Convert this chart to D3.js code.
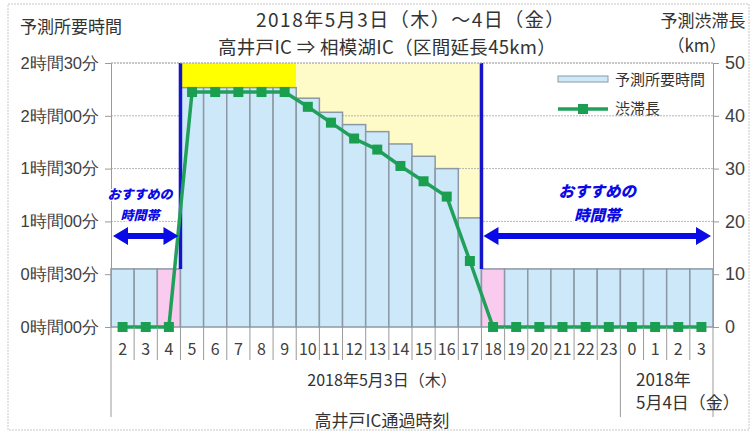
<!DOCTYPE html>
<html>
<head>
<meta charset="utf-8">
<script src="https://cdn.jsdelivr.net/npm/d3@7"></script>
<style>
  body { margin: 0; background: #fff; }
  svg { display: block; font-family: "Noto Sans CJK JP", "Noto Sans", sans-serif; }
  .axis text { fill: #404040; }
  .axis path, .axis line { stroke: #9a9a9a; }
</style>
</head>
<body>
<svg id="chart" width="755" height="432"></svg>
<script>
// ------------------------------------------------------------
// data: hourly forecast, 2018/5/3 02:00 -> 5/4 03:00
// ------------------------------------------------------------
const hours = ["2","3","4","5","6","7","8","9","10","11","12","13","14","15","16","17",
               "18","19","20","21","22","23","0","1","2","3"];
// travel time in minutes (bars, left axis)
const travelMin = [33,33,33,136,136,136,136,136,130,122,115,111,104,97,90,62,
                   33,33,33,33,33,33,33,33,33,33];
// congestion length in km (line, right axis)
const jamKm = [0,0,0,44.5,44.5,44.5,44.5,44.5,41.7,38.7,35.7,33.6,30.5,27.6,24.7,12.5,
               0,0,0,0,0,0,0,0,0,0];
const pinkIdx = [2, 16];          // boundary hours (4時, 18時)
const peakIdx = [3, 7];           // bright yellow band 5-9時
const busyIdx = [8, 15];          // pale yellow band 10-17時
const recommend = [[0, 2], [16, 25]];  // おすすめの時間帯
const leftTicks = [0, 30, 60, 90, 120, 150];
const rightTicks = [0, 10, 20, 30, 40, 50];

// ------------------------------------------------------------
// scales
// ------------------------------------------------------------
const svg = d3.select("#chart");
const L = 111, R = 713, T = 63, B = 327;

const x = d3.scaleBand().domain(d3.range(hours.length)).range([L, R]).padding(0);
const yL = d3.scaleLinear().domain([0, 150]).range([B, T]);
const yR = d3.scaleLinear().domain([0, 50]).range([B, T]);
const bw = x.bandwidth();

// outer frame
svg.append("rect")
  .attr("x", 8).attr("y", 4).attr("width", 741).attr("height", 426)
  .attr("fill", "none").attr("stroke", "#c8c8c8").attr("stroke-dasharray", "2,1");

// background bands
svg.append("rect")
  .attr("x", x(peakIdx[0])).attr("y", T)
  .attr("width", x(peakIdx[1]) + bw - x(peakIdx[0])).attr("height", B - T)
  .attr("fill", "#ffff00");
svg.append("rect")
  .attr("x", x(busyIdx[0])).attr("y", T)
  .attr("width", x(busyIdx[1]) + bw - x(busyIdx[0])).attr("height", B - T)
  .attr("fill", "#fffbc9");

// gridlines
svg.append("g").selectAll("line")
  .data(leftTicks.slice(1))
  .join("line")
    .attr("x1", L).attr("x2", R)
    .attr("y1", d => yL(d)).attr("y2", d => yL(d))
    .attr("stroke", "#b4b4b4").attr("stroke-dasharray", "2,1");

// bars
svg.append("g").selectAll("rect")
  .data(travelMin)
  .join("rect")
    .attr("x", (d, i) => x(i))
    .attr("y", d => yL(d))
    .attr("width", bw)
    .attr("height", d => B - yL(d))
    .attr("fill", (d, i) => pinkIdx.includes(i) ? "#f9cbef" : "#cde9f9")
    .attr("stroke", "#8c99a4")
    .attr("stroke-width", 1.5);

// blue boundary lines
svg.append("g").selectAll("line")
  .data(pinkIdx)
  .join("line")
    .attr("x1", (d, i) => i === 0 ? x(d) + bw : x(d))
    .attr("x2", (d, i) => i === 0 ? x(d) + bw : x(d))
    .attr("y1", T).attr("y2", d => yL(travelMin[d]))
    .attr("stroke", "#1414c8").attr("stroke-width", 3.5);

// axes
const fmt = m => `${Math.floor(m / 60)}時間${String(m % 60).padStart(2, "0")}分`;
const gL = svg.append("g").attr("class", "axis")
  .attr("transform", `translate(${L},0)`)
  .call(d3.axisLeft(yL).tickValues(leftTicks).tickFormat(fmt).tickSize(6).tickPadding(6));
gL.selectAll("text").attr("font-size", 16.5);
gL.select(".domain").attr("stroke", "#9a9a9a");

const gR = svg.append("g").attr("class", "axis")
  .attr("transform", `translate(${R},0)`)
  .call(d3.axisRight(yR).tickValues(rightTicks).tickSize(6).tickPadding(6));
gR.selectAll("text").attr("font-size", 18);

// top border of plot
svg.append("line")
  .attr("x1", L).attr("x2", R).attr("y1", T).attr("y2", T)
  .attr("stroke", "#b4b4b4").attr("stroke-dasharray", "2,1");

// congestion line
const line = d3.line().x((d, i) => x(i) + bw / 2).y(d => yR(d));
svg.append("path")
  .datum(jamKm)
  .attr("d", line)
  .attr("fill", "none").attr("stroke", "#21a05c").attr("stroke-width", 3.5);
svg.append("g").selectAll("rect")
  .data(jamKm)
  .join("rect")
    .attr("x", (d, i) => x(i) + bw / 2 - 5)
    .attr("y", d => yR(d) - 5)
    .attr("width", 10).attr("height", 10)
    .attr("fill", "#1a9f50");

// x labels + separators
const gx = svg.append("g").attr("fill", "#404040");
gx.selectAll("text")
  .data(hours)
  .join("text")
    .attr("x", (d, i) => x(i) + bw / 2)
    .attr("y", 355)
    .attr("text-anchor", "middle")
    .attr("font-size", 16)
    .text(d => d);
const seps = d3.range(hours.length + 1);
gx.selectAll("line")
  .data(seps)
  .join("line")
    .attr("x1", i => i < hours.length ? x(i) : R)
    .attr("x2", i => i < hours.length ? x(i) : R)
    .attr("y1", B)
    .attr("y2", i => (i === 0 || i === 22 || i === hours.length) ? 417 : 360)
    .attr("stroke", "#9a9a9a");

// date labels
const txt = (tx, ty, s, size, anchor = "middle") => svg.append("text")
  .attr("x", tx).attr("y", ty).attr("font-size", size)
  .attr("text-anchor", anchor).attr("fill", "#333").text(s);
txt(382, 386, "2018年5月3日（木）", 16);
txt(636, 386, "2018年", 17, "start");
txt(636, 409, "5月4日（金）", 17, "start");
txt(382, 427, "高井戸IC通過時刻", 17);

// titles
txt(256, 27, "2018年5月3日（木）～4日（金）", 19, "start").attr("letter-spacing", 1.5);
txt(218, 54, "高井戸IC ⇒ 相模湖IC（区間延長45km）", 18.5, "start").attr("letter-spacing", 0.3);
txt(20, 33, "予測所要時間", 17, "start");
txt(703, 27, "予測渋滞長", 17);
txt(697, 52, "（km）", 17);

// legend
const lg = svg.append("g");
lg.append("rect").attr("x", 558).attr("y", 76).attr("width", 50).attr("height", 6)
  .attr("fill", "#cde9f9").attr("stroke", "#8c99a4");
lg.append("text").attr("x", 615).attr("y", 85).attr("font-size", 15).attr("fill", "#333").text("予測所要時間");
lg.append("line").attr("x1", 558).attr("x2", 608).attr("y1", 109).attr("y2", 109)
  .attr("stroke", "#21a05c").attr("stroke-width", 3.5);
lg.append("rect").attr("x", 578).attr("y", 104).attr("width", 10).attr("height", 10).attr("fill", "#1a9f50");
lg.append("text").attr("x", 615).attr("y", 114).attr("font-size", 15).attr("fill", "#333").text("渋滞長");

// recommended-time arrows
const arrow = (x0, x1, y) => {
  const h = 9, hw = 3, hl = 15;
  return `M${x0},${y} L${x0 + hl},${y - h} L${x0 + hl},${y - hw} L${x1 - hl},${y - hw}
          L${x1 - hl},${y - h} L${x1},${y} L${x1 - hl},${y + h} L${x1 - hl},${y + hw}
          L${x0 + hl},${y + hw} L${x0 + hl},${y + h} Z`;
};
recommend.forEach(([a, b], k) => {
  const x0 = x(a) + 2, x1 = x(b) + bw - 2;
  const cx = k === 0 ? 140 : (x0 + x1) / 2;
  const fs = k === 0 ? 13 : 15.5;
  svg.append("path").attr("d", arrow(x0, x1, 236)).attr("fill", "#0a0ae6");
  [["おすすめの", k === 0 ? 199 : 197], ["時間帯", k === 0 ? 220 : 221]].forEach(([s, ty]) => {
    svg.append("text")
      .attr("x", cx).attr("y", ty)
      .attr("text-anchor", "middle").attr("font-size", fs)
      .attr("font-weight", 900).attr("font-style", "italic")
      .attr("fill", "#0a0ae6").attr("stroke", "#fff").attr("stroke-width", 2.5)
      .attr("paint-order", "stroke")
      .text(s);
  });
});
</script>
</body>
</html>
